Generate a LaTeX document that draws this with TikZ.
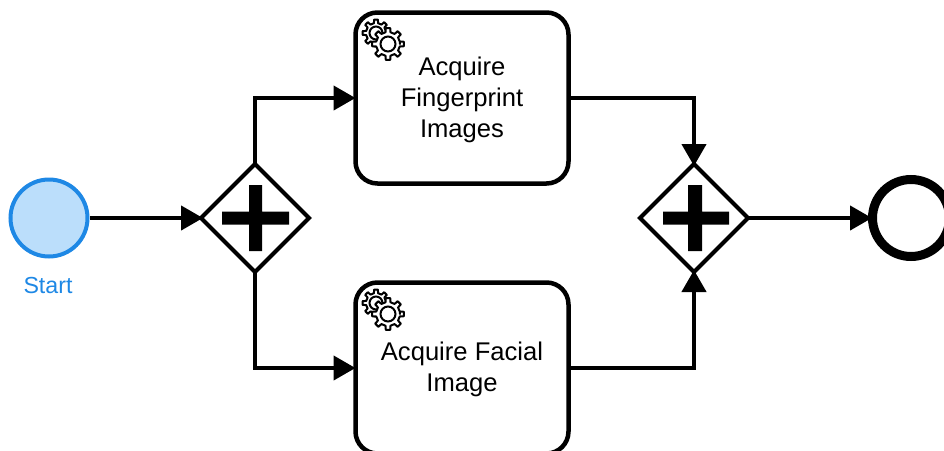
\documentclass[tikz,border=0pt]{standalone}
\usepackage{fontspec}
\setmainfont{Liberation Sans}
\usetikzlibrary{arrows.meta,shapes.geometric}
\definecolor{startblue}{HTML}{1E88E5}
\definecolor{startfill}{HTML}{BBDEFB}
\tikzset{
  flow/.style={line width=4.3pt,-{Triangle[length=22pt,width=24pt]},line join=miter,shorten >=-2pt},
  taskbox/.style={draw=black,fill=white,line width=4.5pt,rounded corners=22pt,minimum width=213pt,minimum height=171pt,inner sep=0pt,outer sep=2pt},
  gatebox/.style={draw=black,fill=white,line width=4pt,shape=diamond,aspect=1,minimum width=108pt,minimum height=108pt,inner sep=0pt,outer sep=0pt},
  tasklabel/.style={align=center,font=\fontsize{25.6pt}{31pt}\selectfont,inner sep=0pt},
  plusbar/.style={fill=black,draw=none},
  gearline/.style={draw=black,fill=white,line width=2pt,line join=round},
  pics/gearwheel/.style n args={2}{code={
    \path[gearline] (0:#1)
      \foreach \k in {0,...,7}{
        -- ({\k*45-12}:#1) -- ({\k*45-8}:#2) -- ({\k*45+8}:#2) -- ({\k*45+12}:#1) arc[start angle={\k*45+12},end angle={\k*45+33},radius=#1]
      } -- cycle;
  }},
  pics/gearpair/.style={code={
    \pic at (0,0) {gearwheel={10}{13.5}};
    \draw[line width=2pt] (0,0) circle[radius=6.5];
    \pic at (12,11) {gearwheel={12}{16}};
    \draw[line width=2pt] (12,11) circle[radius=7.5];
  }}
}
\begin{document}
\begin{tikzpicture}[x=1pt,y=-1pt]
\useasboundingbox (0,0) rectangle (944,450);
\clip (0,0) rectangle (944,450);
\node[circle,draw=startblue,fill=startfill,line width=4pt,minimum size=77pt,inner sep=0pt,outer sep=2pt] (start) at (49,218) {};
\node[text=startblue,font=\fontsize{23.2pt}{27pt}\selectfont,inner sep=0pt] (startlabel) at (48,286) {Start};
\node[gatebox] (gwa) at (255,218) {};
\node[gatebox] (gwb) at (694,218) {};
\node[taskbox] (taska) at (462,98) {};
\node[taskbox] (taskb) at (462,368) {};
\node[circle,draw=black,fill=white,line width=9pt,minimum size=77pt,inner sep=0pt,outer sep=4.5pt] (finish) at (911,218) {};
\node[tasklabel] (labela) at (462,100) {Acquire\\Fingerprint\\Images};
\node[tasklabel] (labelb) at (462,369.5) {Acquire Facial\\Image};
\fill[plusbar] (222,211.7) rectangle (289,224.7) (249,185) rectangle (262,251);
\fill[plusbar] (663,211.7) rectangle (729,224.7) (688,185) rectangle (702,251);
\pic at (376,33) {gearpair};
\pic at (376,303) {gearpair};
\draw[flow] (start.east) -- (gwa.west);
\draw[flow] (gwa.north) |- (taska.west);
\draw[flow] (gwa.south) |- (taskb.west);
\draw[flow] (taska.east) -| (gwb.north);
\draw[flow] (taskb.east) -| (gwb.south);
\draw[flow,shorten >=-4pt] (gwb.east) -- (finish.west);
\end{tikzpicture}
\end{document}
